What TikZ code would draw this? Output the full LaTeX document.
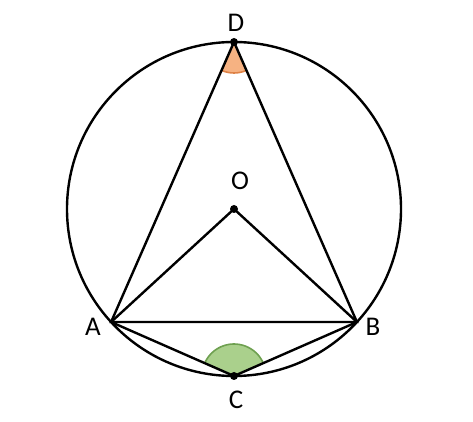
\documentclass[tikz,border=0pt]{standalone}
\usepackage{fontspec}
\setmainfont{Carlito}
\usetikzlibrary{angles, calc}

\definecolor{angD}{RGB}{246,178,130}
\definecolor{angDline}{RGB}{222,130,70}
\definecolor{angC}{RGB}{170,208,140}
\definecolor{angCline}{RGB}{110,160,80}

\begin{document}
\begin{tikzpicture}[
        x=1pt, y=1pt,
        seg/.style={draw=black, line width=2.4pt, line cap=round},
        pointdot/.style={circle, fill=black, inner sep=0pt, minimum size=8pt},
        lbl/.style={font=\fontsize{27}{30}\selectfont, inner sep=0pt},
        angleD/.style={draw=angDline, fill=angD, line width=1.6pt, angle radius=31pt},
        angleC/.style={draw=angCline, fill=angC, line width=1.6pt, angle radius=32pt}
    ]

    % Frame
    \useasboundingbox (0,0) rectangle (473,422);

    % Points
    \coordinate (O) at (234,213);
    \coordinate (A) at ($(O)+(222.6:167)$);
    \coordinate (B) at ($(O)+(317.4:167)$);
    \coordinate (C) at ($(O)+(270:167)$);
    \coordinate (D) at ($(O)+(90:167)$);

    % Angles
    \pic [angleD] {angle = A--D--B};
    \pic [angleC] {angle = B--C--A};

    % Circle
    \draw[seg] (O) circle[radius=167];

    % Chords and radii
    \draw[seg] (A) -- (D) -- (B) -- cycle;
    \draw[seg] (A) -- (C) -- (B);
    \draw[seg] (A) -- (O) -- (B);

    % Dots
    \node (dotO) [pointdot] at (O) {};
    \node (dotC) [pointdot] at (C) {};
    \node (dotD) [pointdot] at (D) {};

    % Labels
    \node (labD) [lbl] at (236,399) {D};
    \node (labO) [lbl] at (240,241) {O};
    \node (labA) [lbl] at (93,95) {A};
    \node (labB) [lbl] at (373,95) {B};
    \node (labC) [lbl] at (236,22) {C};

    \end{tikzpicture}
\end{document}
